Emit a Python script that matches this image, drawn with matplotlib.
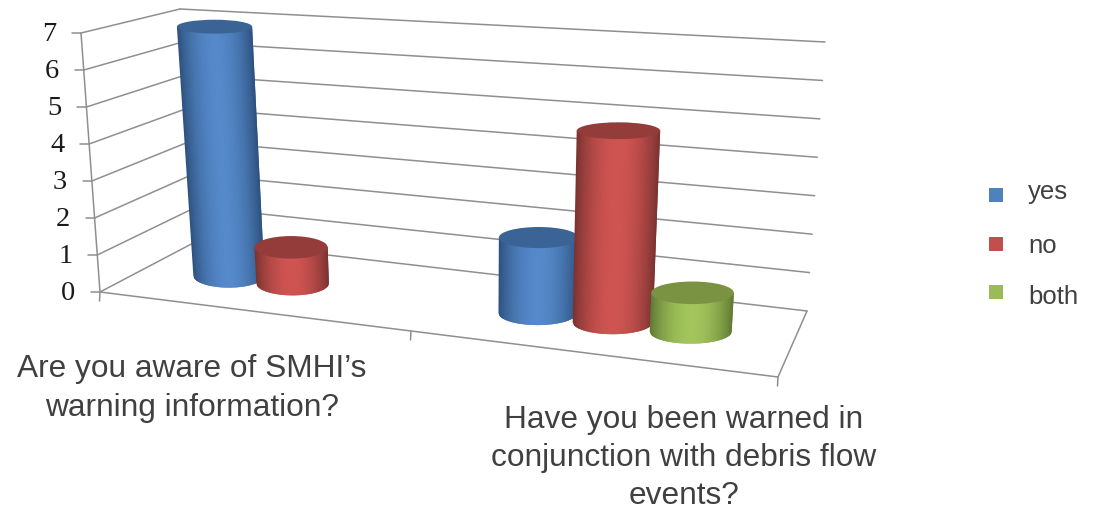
import numpy as np
import matplotlib
matplotlib.use('Agg')
import matplotlib.pyplot as plt
from matplotlib.colors import to_rgb
from matplotlib.patches import Ellipse, Polygon, Rectangle

questions = ["Are you aware of SMHI\u2019s\nwarning information?",
             "Have you been warned in\nconjunction with debris flow\nevents?"]
series_names = ['yes', 'no', 'both']
yes_counts = [7, 2]
no_counts = [1, 5]
both_counts = [0, 1]
y_ticks = [0, 1, 2, 3, 4, 5, 6, 7]

# colours: legend swatch, cylinder edge, cylinder middle, cylinder lid
swatch = ['#4f81bd', '#c0504d', '#9bbb59']
edge = ['#2c4f7c', '#763130', '#5c7733']
middle = ['#5589ca', '#cf5451', '#a3c55c']
lid = ['#3a6496', '#943c3a', '#7a9343']
grid = '#8f8f8f'
text_col = '#404040'

# corners of the chart box on screen, (front/back, left/right, floor/top)
FL0, FL7 = np.array([100, 292.]), np.array([81, 33.])
BL0, BL7 = np.array([199, 240.]), np.array([180, 9.])
BR0, BR7 = np.array([807, 311.]), np.array([825, 42.])
FR0, FR7 = np.array([778, 377.]), np.array([797, 92.])
KEEP = 1.18  # foreshortening along the category axis
DEPTH = 0.5
GROUP_MID = [0.505, 1.505]
STEP = 0.22


def along(u):
    s = u / 2.0
    return s / (s + KEEP * (1 - s))


def box(t, v, z):
    # t: 0..1 across the box, v: depth 0..1, z: value 0..7
    a = z / 7.0
    front0 = FL0 + (FR0 - FL0) * t
    front7 = FL7 + (FR7 - FL7) * t
    back0 = BL0 + (BR0 - BL0) * t
    back7 = BL7 + (BR7 - BL7) * t
    floor = front0 + (back0 - front0) * v
    top = front7 + (back7 - front7) * v
    return floor + (top - floor) * a


def project(u, v, z):
    return box(along(u), v, z)


def line(ax, p, q):
    ax.plot([p[0], q[0]], [p[1], q[1]], color=grid, lw=1.1, solid_capstyle='round', zorder=1)


def cylinder(ax, u, value, k):
    t = along(u)
    dt = 0.0538 + 0.0118 * t
    cb = box(t, DEPTH, 0)
    ct = box(t, DEPTH, value)
    rb = (box(t + dt, DEPTH, 0)[0] - box(t - dt, DEPTH, 0)[0]) / 2
    rt = (box(t + dt, DEPTH, value)[0] - box(t - dt, DEPTH, value)[0]) / 2
    # the lid flattens as it rises towards eye level
    hb = 12.0
    ht = 12.0 - 0.72 * value
    dark = np.array(to_rgb(edge[k]))
    light = np.array(to_rgb(middle[k]))
    xs = np.linspace(-1, 1, 61)
    # painted left to right, each strip running under the next one
    for i in range(len(xs) - 1):
        f = (xs[i] + xs[i + 1]) / 4 + 0.5
        col = dark + (light - dark) * np.sin(np.pi * f) ** 0.8
        seg = np.linspace(xs[i], 1 if i >= len(xs) - 3 else xs[i + 2], 4)
        low = np.sqrt(np.clip(1 - seg ** 2, 0, 1))
        pts = [(ct[0] + rt * x, ct[1]) for x in seg] + \
              [(cb[0] + rb * x, cb[1] + hb * y) for x, y in zip(seg[::-1], low[::-1])]
        ax.add_patch(Polygon(pts, closed=True, facecolor=col, edgecolor='none', zorder=3 + u))
    ax.add_patch(Ellipse(ct, 2 * rt, 2 * ht, facecolor=lid[k], edgecolor='none', zorder=3 + u))


fig = plt.figure(figsize=(10.93, 5.11), dpi=100)
ax = fig.add_axes([0, 0, 1, 1])
ax.set_xlim(0, 1093)
ax.set_ylim(511, 0)
ax.axis('off')

# walls
for z in y_ticks:
    front = project(0, 0, z)
    line(ax, front, project(0, 1, z))
    line(ax, project(0, 1, z), project(2, 1, z))
    line(ax, front, front + np.array([-9, 0]))
    ax.text(front[0] - 32, front[1] + 1.5, str(z), family='Liberation Serif', fontsize=20.5,
            color='#1a1a1a', ha='center', va='center')
line(ax, project(0, 0, 0), project(0, 0, 7))

# floor
line(ax, project(0, 0, 0), project(2, 0, 0))
line(ax, project(2, 0, 0), project(2, 1, 0))
for c in range(3):
    p = project(c, 0, 0)
    line(ax, p, p + np.array([-0.5, 9]))

# cylinders
counts = [yes_counts, no_counts, both_counts]
for q in range(len(questions)):
    for k in range(len(series_names)):
        if counts[k][q] > 0:
            cylinder(ax, GROUP_MID[q] + (k - 1) * STEP, counts[k][q], k)

# question labels sit under the floor
ax.text(192, 388.5, questions[0], family='Liberation Sans', fontsize=22.8, color=text_col,
        ha='center', va='center', linespacing=1.35)
ax.text(684, 458, questions[1], family='Liberation Sans', fontsize=22.8, color=text_col,
        ha='center', va='center', linespacing=1.35)

# legend
for k, name in enumerate(series_names):
    ym = [195, 244.5, 292][k]
    ax.add_patch(Rectangle((989, ym - 7), 14, 14, facecolor=swatch[k], edgecolor='none'))
    ax.text(1028, [192, 246, 297][k], name, family='Liberation Sans', fontsize=18.5,
            color=text_col, ha='left', va='center')

fig.savefig('out.png', dpi=100)
